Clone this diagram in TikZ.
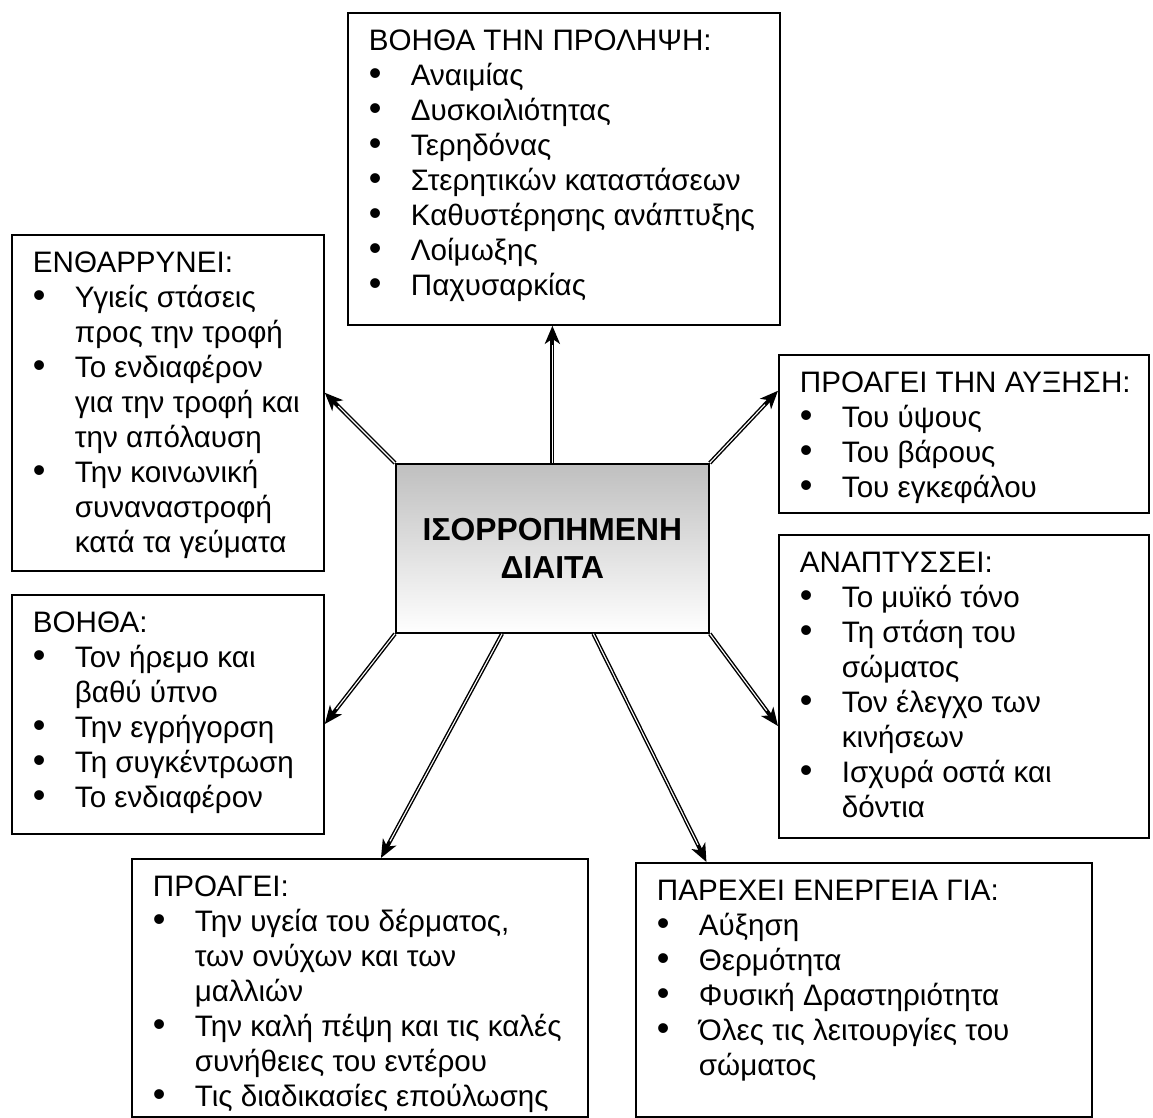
\documentclass[tikz,border=0pt]{standalone}
\usepackage{fontspec}
\setmainfont{Liberation Sans}
\usetikzlibrary{arrows.meta, calc}

% box contents: width, height, text
\newcommand{\boxbody}[3]{\parbox[t][#2][t]{#1}{\fontsize{14.8pt}{17.5pt}\selectfont
  \raggedright\leftskip=10.5pt\relax\vspace*{8.5pt}#3}}
\newcommand{\itm}[1]{\par\hangindent=21pt\hangafter=1\noindent
  \makebox[21pt][l]{\fontsize{18pt}{17.5pt}\selectfont\textbullet}#1}

\begin{document}
\begin{tikzpicture}[
  x=0.5pt, y=-0.5pt,
  infobox/.style={draw, line width=0.9pt, inner sep=0pt, anchor=north west},
  hubbox/.style={draw, line width=0.9pt, inner sep=0pt, anchor=north west,
                 top color=black!25, bottom color=white, align=center,
                 minimum width=156.5pt, minimum height=84.5pt,
                 font=\fontsize{15.9pt}{19pt}\selectfont\bfseries},
  link/.style={line width=2pt, -{Stealth[length=9pt, width=7.5pt, inset=2.5pt]},
               postaction={draw=white, line width=0.55pt, -, shorten >=9.5pt}}
]
\useasboundingbox (0,0) rectangle (1153,1118);

% Centre
\node[hubbox] (diet) at (395,463) {ΙΣΟΡΡΟΠΗΜΕΝΗ\\ΔΙΑΙΤΑ};

% Surrounding boxes
\node[infobox] (prev) at (347,12) {\boxbody{216pt}{156pt}{ΒΟΗΘΑ ΤΗΝ ΠΡΟΛΗΨΗ:
  \itm{Αναιμίας}
  \itm{Δυσκοιλιότητας}
  \itm{Τερηδόνας}
  \itm{Στερητικών καταστάσεων}
  \itm{Καθυστέρησης ανάπτυξης}
  \itm{Λοίμωξης}
  \itm{Παχυσαρκίας}}};

\node[infobox] (enc) at (11,234) {\boxbody{156pt}{168pt}{ΕΝΘΑΡΡΥΝΕΙ:
  \itm{Υγιείς στάσεις\newline προς την τροφή}
  \itm{Το ενδιαφέρον\newline για την τροφή και\newline την απόλαυση}
  \itm{Την κοινωνική\newline συναναστροφή\newline κατά τα γεύματα}}};

\node[infobox] (grow) at (778,354) {\boxbody{185pt}{79pt}{ΠΡΟΑΓΕΙ ΤΗΝ ΑΥΞΗΣΗ:
  \itm{Του ύψους}
  \itm{Του βάρους}
  \itm{Του εγκεφάλου}}};

\node[infobox] (dev) at (778,534) {\boxbody{185pt}{151.5pt}{ΑΝΑΠΤΥΣΣΕΙ:
  \itm{Το μυϊκό τόνο}
  \itm{Τη στάση του\newline σώματος}
  \itm{Τον έλεγχο των\newline κινήσεων}
  \itm{Ισχυρά οστά και\newline δόντια}}};

\node[infobox] (help) at (11,594) {\boxbody{156pt}{119.5pt}{ΒΟΗΘΑ:
  \itm{Τον ήρεμο και\newline βαθύ ύπνο}
  \itm{Την εγρήγορση}
  \itm{Τη συγκέντρωση}
  \itm{Το ενδιαφέρον}}};

\node[infobox] (prom) at (131,858) {\boxbody{228pt}{129pt}{ΠΡΟΑΓΕΙ:
  \itm{Την υγεία του δέρματος,\newline των ονύχων και των\newline μαλλιών}
  \itm{Την καλή πέψη και τις καλές\newline συνήθειες του εντέρου}
  \itm{Τις διαδικασίες επούλωσης}}};

\node[infobox] (energy) at (635,862) {\boxbody{228pt}{127pt}{ΠΑΡΕΧΕΙ ΕΝΕΡΓΕΙΑ ΓΙΑ:
  \itm{Αύξηση}
  \itm{Θερμότητα}
  \itm{Φυσική Δραστηριότητα}
  \itm{Όλες τις λειτουργίες του\newline σώματος}}};

% Arrows
\draw[link] (diet.north) -- (diet.north |- prev.south);
\draw[link] (diet.north west) -- ($(enc.north east)!0.47!(enc.south east)$);
\draw[link] (diet.north east) -- ($(grow.north west)!0.23!(grow.south west)$);
\draw[link] (diet.south west) -- ($(help.north east)!0.54!(help.south east)$);
\draw[link] (diet.south east) -- ($(dev.north west)!0.63!(dev.south west)$);
\draw[link] ($(diet.south west)!0.34!(diet.south east)$) -- ($(prom.north west)!0.546!(prom.north east)$);
\draw[link] ($(diet.south west)!0.63!(diet.south east)$) -- ($(energy.north west)!0.156!(energy.north east)$);

\end{tikzpicture}
\end{document}
